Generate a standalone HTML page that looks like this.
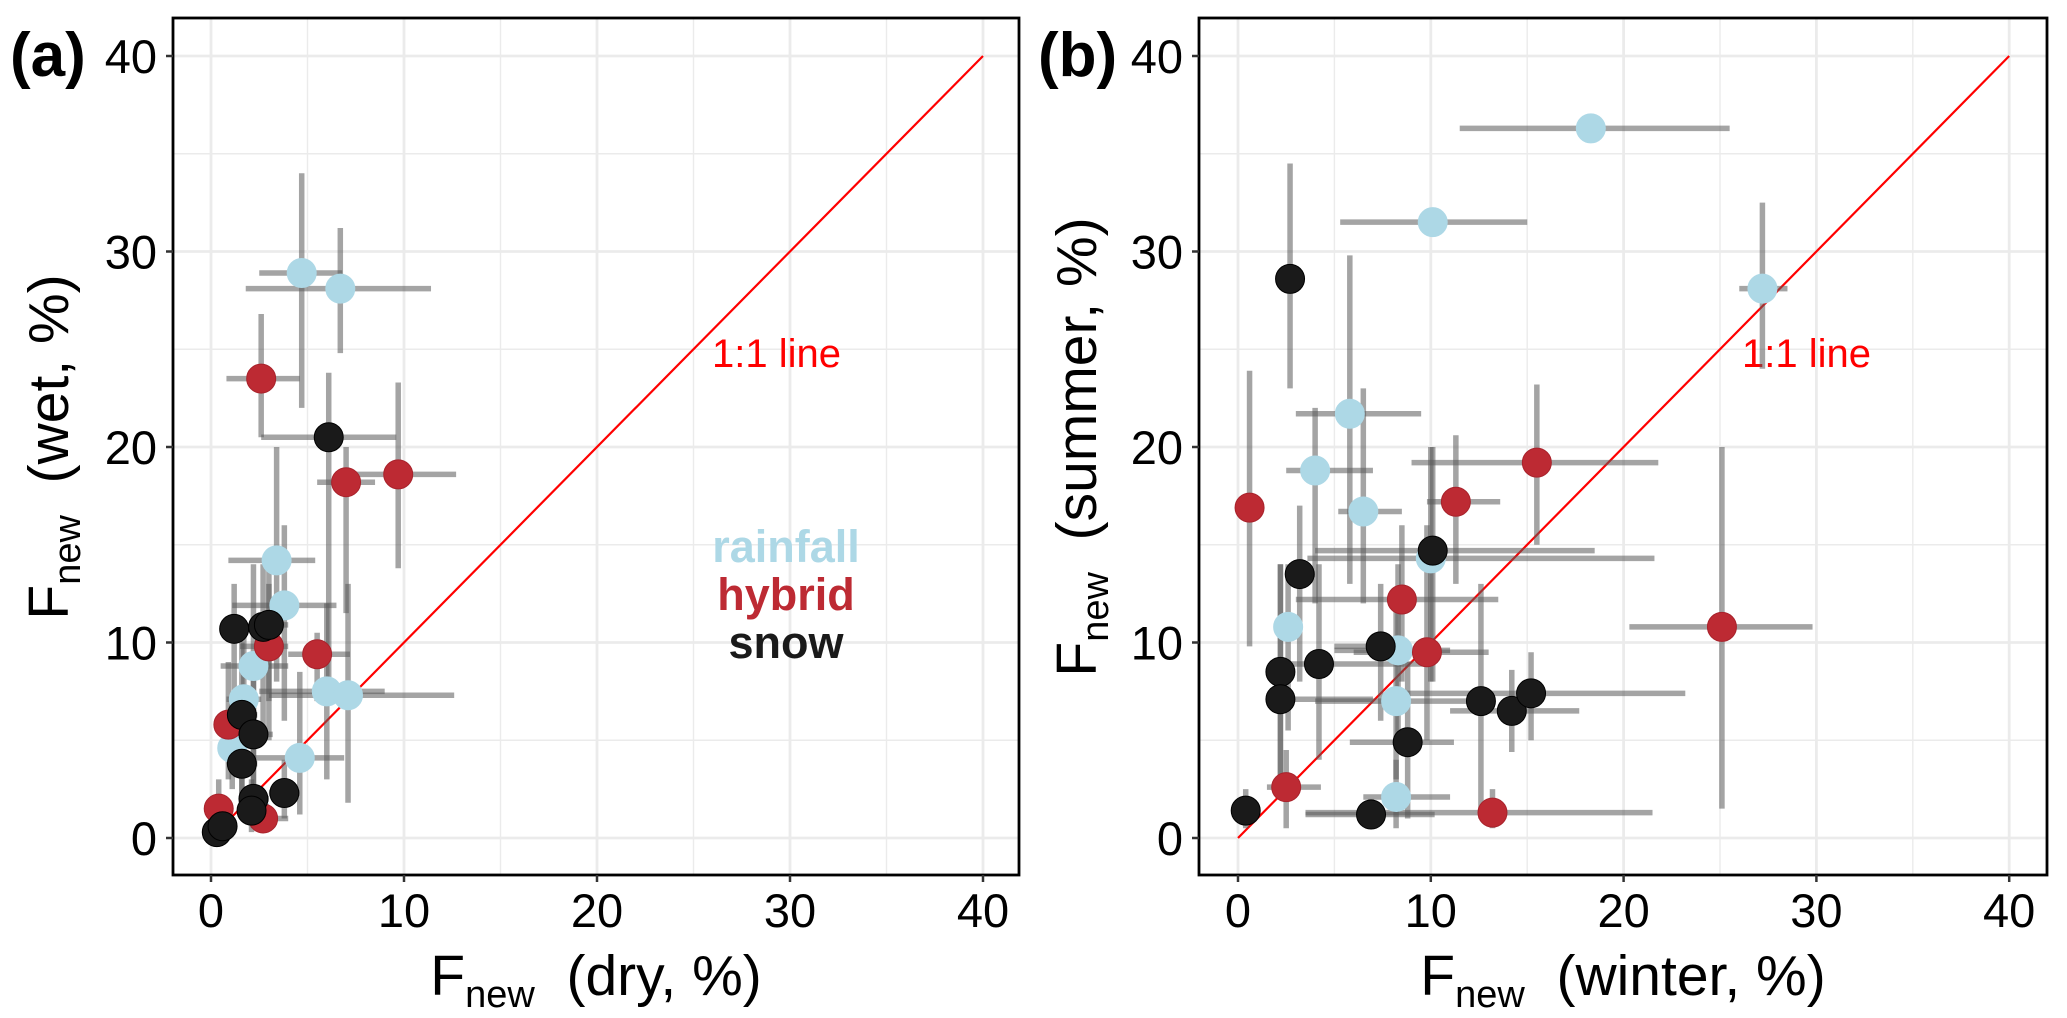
<!DOCTYPE html>
<html><head><meta charset="utf-8">
<style>
html,body{margin:0;padding:0;background:#fff;}
svg{display:block;font-family:"Liberation Sans",Arial,sans-serif;}
</style></head>
<body>
<svg id="chart" width="2067" height="1018" viewBox="0 0 2067 1018" xmlns="http://www.w3.org/2000/svg"></svg>
<script>
// ---- Panel (a) data: dry vs wet ----
const aRainX  = [4.7, 6.7, 3.4, 3.8, 2.2, 1.7, 6.0, 7.1, 4.6, 1.1, 2.3];
const aRainY  = [28.9, 28.1, 14.2, 11.9, 8.8, 7.1, 7.5, 7.3, 4.1, 4.6, 1.4];
const aRainXlo= [2.5, 1.8, 0.9, 1.1, 0.5, 0.8, 2.5, 3.0, 2.0, 0.6, 1.6];
const aRainXhi= [6.8, 11.4, 5.4, 6.5, 4.0, 2.6, 9.0, 12.6, 6.9, 1.7, 3.0];
const aRainYlo= [22.0, 24.8, 8.0, 6.0, 4.0, 4.5, 3.0, 1.8, 1.2, 2.5, 0.5];
const aRainYhi= [34.0, 31.2, 20.0, 16.0, 14.0, 11.0, 12.0, 13.0, 8.5, 7.0, 2.5];

const aHybX  = [2.6, 7.0, 9.7, 3.0, 5.5, 0.9, 0.4, 2.7];
const aHybY  = [23.5, 18.2, 18.6, 9.8, 9.4, 5.8, 1.5, 1.0];
const aHybXlo= [0.8, 5.5, 6.5, 1.5, 4.0, 0.4, 0.1, 2.0];
const aHybXhi= [4.6, 8.5, 12.7, 4.0, 7.2, 1.5, 0.8, 4.0];
const aHybYlo= [20.5, 11.5, 13.8, 7.0, 7.0, 3.0, 0.5, 0.3];
const aHybYhi= [26.8, 20.0, 23.3, 13.0, 10.5, 9.0, 3.0, 2.0];

const aSnowX  = [6.1, 1.2, 2.7, 3.0, 1.6, 2.2, 1.6, 2.2, 2.1, 3.8, 0.3, 0.6];
const aSnowY  = [20.5, 10.7, 10.8, 10.9, 6.3, 5.3, 3.8, 2.0, 1.4, 2.3, 0.3, 0.6];
const aSnowXlo= [2.6, 0.5, 1.5, 2.0, 0.8, 1.2, 0.9, 1.5, 1.5, 3.0, 0.1, 0.2];
const aSnowXhi= [9.6, 2.0, 3.6, 4.0, 2.4, 3.2, 2.4, 3.0, 2.8, 4.6, 0.6, 1.0];
const aSnowYlo= [7.0, 5.0, 5.5, 5.0, 2.0, 2.0, 1.0, 0.5, 0.3, 1.0, 0.0, 0.1];
const aSnowYhi= [23.8, 13.0, 14.0, 14.5, 10.0, 9.0, 7.0, 4.0, 3.0, 4.0, 1.0, 1.5];

// ---- Panel (b) data: winter vs summer ----
const bRainX  = [18.3, 10.1, 27.2, 5.8, 4.0, 6.5, 2.6, 10.0, 8.3, 8.2, 8.2];
const bRainY  = [36.3, 31.5, 28.1, 21.7, 18.8, 16.7, 10.8, 14.3, 9.6, 7.0, 2.1];
const bRainXlo= [11.5, 5.3, 26.0, 3.0, 2.5, 5.2, 2.0, 3.6, 5.0, 4.0, 6.5];
const bRainXhi= [25.5, 15.0, 28.5, 9.5, 7.0, 8.5, 3.2, 21.6, 11.0, 12.0, 11.0];
const bRainYlo= [36.3, 31.5, 24.0, 13.0, 12.0, 12.0, 5.5, 8.0, 5.0, 3.0, 0.5];
const bRainYhi= [36.3, 31.5, 32.5, 29.8, 22.0, 23.0, 14.0, 20.0, 14.0, 12.0, 4.0];

const bHybX  = [0.6, 15.5, 11.3, 8.5, 9.8, 2.5, 25.1, 13.2];
const bHybY  = [16.9, 19.2, 17.2, 12.2, 9.5, 2.6, 10.8, 1.3];
const bHybXlo= [0.3, 9.0, 9.8, 3.0, 6.0, 1.5, 20.3, 3.5];
const bHybXhi= [0.9, 21.8, 13.6, 13.5, 13.0, 4.3, 29.8, 21.5];
const bHybYlo= [9.8, 15.0, 13.0, 8.0, 5.0, 0.5, 1.5, 0.5];
const bHybYhi= [23.9, 23.2, 20.6, 16.0, 16.0, 4.5, 20.0, 2.5];

const bSnowX  = [2.7, 10.1, 3.2, 4.2, 2.2, 2.2, 7.4, 8.8, 12.6, 14.2, 15.2, 6.9, 0.4];
const bSnowY  = [28.6, 14.7, 13.5, 8.9, 8.5, 7.1, 9.8, 4.9, 7.0, 6.5, 7.4, 1.2, 1.4];
const bSnowXlo= [2.3, 4.0, 2.5, 2.5, 1.8, 1.5, 5.0, 5.8, 12.0, 11.0, 8.0, 3.5, 0.2];
const bSnowXhi= [3.1, 18.5, 4.0, 10.0, 2.6, 7.0, 9.0, 11.2, 13.2, 17.7, 23.2, 10.2, 0.6];
const bSnowYlo= [23.0, 8.0, 8.0, 4.0, 3.0, 2.0, 6.0, 1.0, 1.0, 4.4, 5.0, 0.5, 0.5];
const bSnowYhi= [34.5, 20.0, 17.0, 14.0, 14.0, 14.0, 13.0, 9.0, 13.0, 8.6, 9.5, 2.0, 2.5];

const tickVals = [0, 10, 20, 30, 40];
const tickLabels = ["0", "10", "20", "30", "40"];

const NS = "http://www.w3.org/2000/svg";
const svg = document.getElementById("chart");
function mk(tag, attrs, parent) {
  const e = document.createElementNS(NS, tag);
  for (const k in attrs) e.setAttribute(k, attrs[k]);
  (parent || svg).appendChild(e);
  return e;
}

const COLORS = { rain: "#add8e6", hyb: "#bd2a33", snow: "#1a1a1a" };

function panel(cfg) {
  const g = mk("g", {});
  
  
  const L = cfg.left, R = cfg.right, T = 18, B = 875;
  const xs = v => cfg.x0 + v * cfg.kx;
  const ys = v => 838 - v * 19.55;
  const grid = mk("g", {}, g);
  
  
  for (let v = 5; v <= 40; v += 10) {
    mk("line", {x1: xs(v), x2: xs(v), y1: T, y2: B, stroke: "#ebebeb", "stroke-width": 1.4}, grid);
    mk("line", {x1: L, x2: R, y1: ys(v), y2: ys(v), stroke: "#ebebeb", "stroke-width": 1.4}, grid);
  }
  for (const v of tickVals) {
    mk("line", {x1: xs(v), x2: xs(v), y1: T, y2: B, stroke: "#ebebeb", "stroke-width": 2.8}, grid);
    mk("line", {x1: L, x2: R, y1: ys(v), y2: ys(v), stroke: "#ebebeb", "stroke-width": 2.8}, grid);
  }
  const one = mk("line", {x1: xs(0), y1: ys(0), x2: xs(40), y2: ys(40), stroke: "#ff0000", "stroke-width": 2.2}, g);
  
  
  const oneT = mk("text", {x: cfg.lblX, y: 367, fill: "#ff0000", "font-size": 40}, g);
  oneT.textContent = "1:1 line";
  
  
  const bars = mk("g", {}, g);
  
  
  const pts = mk("g", {}, g);
  
  
  for (const s of cfg.series) {
    for (let i = 0; i < s.x.length; i++) {
      mk("line", {x1: xs(s.xlo[i]), x2: xs(s.xhi[i]), y1: ys(s.y[i]), y2: ys(s.y[i]), stroke: "rgba(90,90,90,0.55)", "stroke-width": 5.5}, bars);
      mk("line", {x1: xs(s.x[i]), x2: xs(s.x[i]), y1: ys(s.ylo[i]), y2: ys(s.yhi[i]), stroke: "rgba(90,90,90,0.55)", "stroke-width": 5.5}, bars);
    }
  }
  for (const s of cfg.series) {
    for (let i = 0; i < s.x.length; i++) {
      const c = mk("circle", {cx: xs(s.x[i]), cy: ys(s.y[i]), r: 14.5, fill: s.color, stroke: s.key === "rain" ? "#add8e6" : (s.key === "hyb" ? "#a8222b" : "#000"), "stroke-width": 1}, pts);
      
      
    }
  }
  const br = mk("rect", {x: L, y: T, width: R - L, height: B - T, fill: "none", stroke: "#000", "stroke-width": 2.8}, g);
  
  
  tickVals.forEach((v, i) => {
    mk("line", {x1: L - 7, x2: L, y1: ys(v), y2: ys(v), stroke: "#333", "stroke-width": 2.5}, g);
    mk("line", {x1: xs(v), x2: xs(v), y1: B, y2: B + 7, stroke: "#333", "stroke-width": 2.5}, g);
    const ty = mk("text", {x: L - 16, y: ys(v) + 17, "text-anchor": "end", "font-size": 47, fill: "#000"}, g);
    ty.textContent = tickLabels[i];
    
    
    const tx = mk("text", {x: xs(v), y: 927, "text-anchor": "middle", "font-size": 47, fill: "#000"}, g);
    tx.textContent = tickLabels[i];
    
    
  });
  const xt = mk("text", {x: (L + R) / 2, y: 995, "text-anchor": "middle", "font-size": 57, fill: "#000"}, g);
  xt.innerHTML = 'F<tspan font-size="38" dy="12">new</tspan><tspan dy="-12" xml:space="preserve">  (' + cfg.xlab + ', %)</tspan>';
  
  
  const yt = mk("text", {x: 0, y: 0, "text-anchor": "middle", "font-size": 57, fill: "#000", transform: "translate(" + cfg.ytX + ",447) rotate(-90)"}, g);
  yt.innerHTML = 'F<tspan font-size="38" dy="12">new</tspan><tspan dy="-12" xml:space="preserve">  (' + cfg.ylab + ', %)</tspan>';
  
  
  const pl = mk("text", {x: cfg.tagX, y: 76, "font-size": 62, "font-weight": "bold", fill: "#000"}, g);
  pl.textContent = cfg.tag;
  
  
  return g;
}

panel({
  name: "panel-a", left: 173, right: 1019, x0: 211, kx: 19.3, lblX: 712, ytX: 68,
  xlab: "dry", ylab: "wet", tag: "(a)", tagX: 10,
  series: [
    {key: "rain", color: COLORS.rain, x: aRainX, y: aRainY, xlo: aRainXlo, xhi: aRainXhi, ylo: aRainYlo, yhi: aRainYhi},
    {key: "hyb", color: COLORS.hyb, x: aHybX, y: aHybY, xlo: aHybXlo, xhi: aHybXhi, ylo: aHybYlo, yhi: aHybYhi},
    {key: "snow", color: COLORS.snow, x: aSnowX, y: aSnowY, xlo: aSnowXlo, xhi: aSnowXhi, ylo: aSnowYlo, yhi: aSnowYhi}
  ]
});
panel({
  name: "panel-b", left: 1199, right: 2047, x0: 1238, kx: 19.28, lblX: 1742, ytX: 1096,
  xlab: "winter", ylab: "summer", tag: "(b)", tagX: 1038,
  series: [
    {key: "rain", color: COLORS.rain, x: bRainX, y: bRainY, xlo: bRainXlo, xhi: bRainXhi, ylo: bRainYlo, yhi: bRainYhi},
    {key: "hyb", color: COLORS.hyb, x: bHybX, y: bHybY, xlo: bHybXlo, xhi: bHybXhi, ylo: bHybYlo, yhi: bHybYhi},
    {key: "snow", color: COLORS.snow, x: bSnowX, y: bSnowY, xlo: bSnowXlo, xhi: bSnowXhi, ylo: bSnowYlo, yhi: bSnowYhi}
  ]
});

const legNames = ["rainfall", "hybrid", "snow"];
const legColors = [COLORS.rain, COLORS.hyb, COLORS.snow];
const legY = [562, 610, 658];
legNames.forEach((n, i) => {
  const t = mk("text", {x: 786, y: legY[i], "text-anchor": "middle", "font-size": 45, "font-weight": "bold", fill: legColors[i]});
  t.textContent = n;
  
  
});
</script>
</body></html>
